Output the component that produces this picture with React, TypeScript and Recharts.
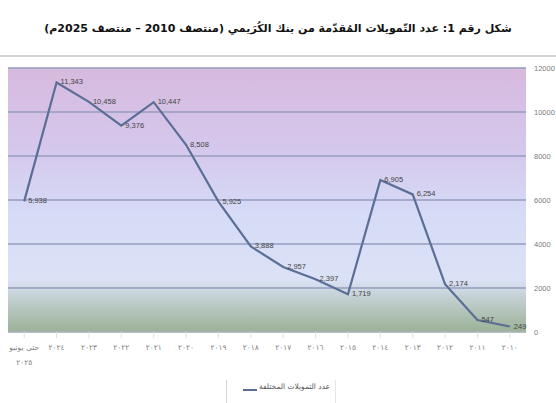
import React from "react";
import { LineChart, Line, XAxis, YAxis, CartesianGrid, LabelList } from "recharts";

const categories = [
  "حتى يونيو ٢٠٢٥", "٢٠٢٤", "٢٠٢٣", "٢٠٢٢", "٢٠٢١", "٢٠٢٠", "٢٠١٩", "٢٠١٨",
  "٢٠١٧", "٢٠١٦", "٢٠١٥", "٢٠١٤", "٢٠١٣", "٢٠١٢", "٢٠١١", "٢٠١٠",
];
const financings = [5938, 11343, 10458, 9376, 10447, 8508, 5925, 3888, 2957, 2397, 1719, 6905, 6254, 2174, 547, 249];
const yTicks = [0, 2000, 4000, 6000, 8000, 10000, 12000];
const seriesName = "عدد التمويلات المختلفة";
const title = "شكل رقم 1: عدد التّمويلات المُقدّمة من بنك الكُرَيمي (منتصف 2010 – منتصف 2025م)";

const data = categories.map((c, i) => ({ cat: c, value: financings[i] }));

const LINE = "#5a6e96";
const SANS = "'Liberation Sans', sans-serif";

const XTick = (props: any) => {
  const { x, y, payload } = props;
  const label: string = payload.value;
  const parts = label.split(" ");
  const lines = parts.length > 2 ? [parts.slice(0, 2).join(" "), parts[2]] : [label];
  return (
    <g>
      {lines.map((l, i) => (
        <text key={i} x={x} y={y} dy={10 + i * 15} textAnchor="middle" fontSize={7.5} fill="#808080" fontFamily="'DejaVu Sans', sans-serif">
          {l}
        </text>
      ))}
    </g>
  );
};

const PointLabel = (props: any) => {
  const { x, y, value } = props;
  return (
    <text x={x + 4} y={y + 2} fontSize={7.5} fill="#444" fontFamily={SANS} textAnchor="start">
      {Number(value).toLocaleString("en-US")}
    </text>
  );
};

const YTick = (props: any) => {
  const { x, y, payload } = props;
  return (
    <text x={x} y={y} dy={3} fontSize={7.5} fill="#7a7a7a" fontFamily={SANS} textAnchor="start">
      {payload.value}
    </text>
  );
};

export default function App() {
  return (
    <div style={{ position: "absolute", left: 0, top: 0, width: 556, height: 403, background: "#fff" }}>
      <div
        style={{
          position: "absolute",
          top: 22,
          left: 0,
          width: 556,
          textAlign: "center",
          direction: "rtl",
          fontFamily: "'DejaVu Sans', sans-serif",
          fontWeight: "bold",
          fontSize: 11,
          color: "#111",
          whiteSpace: "nowrap",
        }}
      >
        {title}
      </div>
      <div style={{ position: "absolute", top: 55, left: 0, width: 556, height: 2, background: "#d4d4d4" }} />
      <LineChart width={556} height={403} data={data} margin={{ top: 68, right: 0, bottom: 41, left: 8 }}>
        <defs>
          <linearGradient id="bgGrad" x1="0" y1="0" x2="0" y2="1">
            <stop offset="0" stopColor="#d7bade" />
            <stop offset="0.3" stopColor="#d5c7ec" />
            <stop offset="0.55" stopColor="#d6dbf6" />
            <stop offset="0.8" stopColor="#dbe2f6" />
            <stop offset="0.87" stopColor="#c3d0d2" />
            <stop offset="1" stopColor="#9bb196" />
          </linearGradient>
        </defs>
        <CartesianGrid vertical={false} fill="url(#bgGrad)" stroke="#959cbf" strokeWidth={1.3} />
        <XAxis
          dataKey="cat"
          scale="band"
          interval={0}
          tick={<XTick />}
          tickLine={{ stroke: "#dde3dd" }}
          axisLine={{ stroke: "#b9c6b6" }}
          tickSize={6}
          tickMargin={2}
          height={30}
        />
        <YAxis
          orientation="right"
          domain={[0, 12000]}
          ticks={yTicks}
          interval={0}
          width={30}
          axisLine={false}
          tickLine={false}
          tickSize={6}
          tickMargin={2}
          tick={<YTick />}
        />
        <Line
          type="linear"
          dataKey="value"
          stroke={LINE}
          strokeWidth={2.2}
          dot={false}
          isAnimationActive={false}
        >
          <LabelList dataKey="value" content={<PointLabel />} />
        </Line>
      </LineChart>
      <div style={{ position: "absolute", left: 226, top: 380, width: 1, height: 23, background: "#d6d6d6" }} />
      <div style={{ position: "absolute", left: 335, top: 380, width: 1, height: 23, background: "#e6e6e6" }} />
      <div style={{ position: "absolute", left: 243, top: 389, width: 14, height: 2, background: LINE }} />
      <div
        style={{
          position: "absolute",
          left: 259,
          top: 382,
          fontSize: 7.5,
          color: "#555",
          fontFamily: "'DejaVu Sans', sans-serif",
          direction: "rtl",
          whiteSpace: "nowrap",
        }}
      >
        {seriesName}
      </div>
    </div>
  );
}
